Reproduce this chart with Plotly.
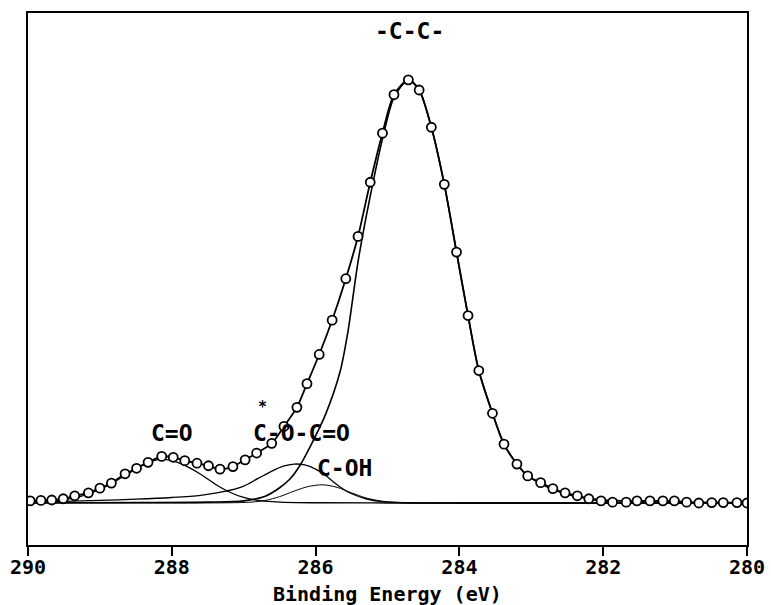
import plotly.graph_objects as go

# Measured spectrum (open circles)
E_data = [289.97, 289.82, 289.67, 289.51, 289.35, 289.16, 289.00, 288.84, 288.65, 288.49,
          288.33, 288.14, 287.98, 287.82, 287.65, 287.49, 287.33, 287.15, 286.98, 286.82,
          286.61, 286.44, 286.26, 286.12, 285.95, 285.77, 285.58, 285.41, 285.24, 285.07,
          284.91, 284.71, 284.56, 284.39, 284.21, 284.04, 283.88, 283.73, 283.54, 283.38,
          283.20, 283.05, 282.87, 282.70, 282.53, 282.36, 282.20, 282.03, 281.87, 281.68,
          281.53, 281.35, 281.17, 281.01, 280.84, 280.67, 280.49, 280.33, 280.14, 280.00]
I_data = [0.5, 0.6, 0.7, 1.0, 1.7, 2.4, 3.5, 4.7, 6.9, 8.2,
          9.6, 11.0, 10.8, 10.0, 9.4, 8.8, 8.0, 8.6, 10.2, 11.8,
          14.1, 18.1, 22.6, 28.2, 35.1, 43.2, 53.0, 63.0, 75.8, 87.4,
          96.5, 100.0, 97.6, 88.8, 75.3, 59.3, 44.3, 31.3, 21.2, 13.9,
          9.2, 6.4, 4.8, 3.4, 2.4, 1.7, 1.0, 0.5, 0.2, 0.2,
          0.5, 0.5, 0.5, 0.5, 0.2, 0.0, 0.1, 0.1, 0.1, 0.0]

# Fitted components
E_cc = [290.0, 288.5, 287.5, 287.0, 286.7, 286.5, 286.36, 286.22, 286.04, 285.86,
        285.66, 285.55, 285.41, 285.24, 285.07, 284.91, 284.71, 284.56, 284.39, 284.21,
        284.04, 283.88, 283.73, 283.54, 283.38, 283.20, 283.05, 282.87, 282.70, 282.53,
        282.36, 282.0, 281.5, 281.0, 280.5, 280.0]
I_cc = [0.0, 0.1, 0.2, 0.5, 1.6, 3.6, 5.6, 8.8, 14.5, 21.0,
        31.0, 40.5, 57.0, 72.5, 86.0, 95.8, 100.0, 97.6, 88.8, 75.3,
        59.3, 44.3, 31.3, 21.2, 13.9, 9.2, 6.4, 4.6, 3.2, 2.2,
        1.5, 0.7, 0.4, 0.2, 0.1, 0.0]

E_co = [290.0, 289.6, 289.3, 289.0, 288.8, 288.6, 288.4, 288.25, 288.15, 288.0,
        287.8, 287.6, 287.4, 287.2, 287.0, 286.8, 286.5, 286.0, 285.0, 280.0]
I_co = [0.2, 0.6, 1.4, 3.2, 5.0, 7.0, 9.0, 10.0, 10.3, 10.0,
        8.7, 6.8, 4.5, 2.6, 1.3, 0.6, 0.2, 0.05, 0.0, 0.0]

E_coco = [290.0, 289.5, 289.0, 288.5, 288.0, 287.6, 287.3, 287.0, 286.8, 286.6,
          286.45, 286.3, 286.15, 286.0, 285.87, 285.7, 285.55, 285.3, 285.09, 284.8, 284.0, 280.0]
I_coco = [0.2, 0.4, 0.6, 0.9, 1.3, 1.8, 2.6, 4.0, 5.8, 7.6,
          8.7, 9.2, 9.0, 8.0, 6.6, 4.3, 2.6, 1.0, 0.3, 0.1, 0.0, 0.0]

E_coh = [290.0, 287.2, 286.9, 286.7, 286.5, 286.3, 286.1, 285.9, 285.7, 285.5,
         285.3, 285.1, 284.9, 284.6, 280.0]
I_coh = [0.0, 0.05, 0.2, 0.6, 1.5, 2.8, 3.9, 4.3, 3.7, 2.4,
         1.2, 0.5, 0.15, 0.0, 0.0]

labels = ["-C-C-", "C=O", "C-O-C=O", "C-OH", "*"]
label_E = [284.7, 288.0, 286.19, 285.6, 286.74]
label_I = [111.5, 16.6, 16.6, 8.3, 22.6]

x_ticks = [290, 288, 286, 284, 282, 280]
x_title = "Binding Energy (eV)"

FONT = "DejaVu Sans Mono"

fig = go.Figure()
for E, I, w in [(E_co, I_co, 1.3), (E_coco, I_coco, 1.3), (E_coh, I_coh, 1.0), (E_cc, I_cc, 1.6)]:
    fig.add_trace(go.Scatter(x=E, y=I, mode="lines",
                             line=dict(color="black", width=w, shape="spline", smoothing=0.8),
                             showlegend=False, hoverinfo="skip"))

# envelope (fit sum) through the data
fig.add_trace(go.Scatter(x=E_data, y=I_data, mode="lines",
                         line=dict(color="black", width=1.8, shape="spline", smoothing=0.8),
                         showlegend=False))
fig.add_trace(go.Scatter(x=E_data, y=I_data, mode="markers",
                         marker=dict(symbol="circle", size=9, color="white",
                                     line=dict(color="black", width=1.8)),
                         showlegend=False))

for t, xe, yi in zip(labels, label_E, label_I):
    fig.add_annotation(x=xe, y=yi, text=t, showarrow=False,
                       font=dict(family=FONT, size=23 if t != "*" else 15, color="black", weight="bold"),
                       xanchor="center", yanchor="middle")

# x-axis title
fig.add_annotation(x=0.5, y=-0.092, xref="paper", yref="paper", text=x_title,
                   showarrow=False, xanchor="center", yanchor="middle",
                   font=dict(family=FONT, size=20, color="black", weight="bold"))

fig.update_layout(
    width=771, height=605,
    margin=dict(l=28, r=24, t=13, b=60),
    paper_bgcolor="white", plot_bgcolor="white",
    font=dict(family=FONT, color="black"),
    xaxis=dict(range=[290, 280], tickvals=x_ticks, ticktext=[str(v) for v in x_ticks],
               ticks="outside", ticklen=9, tickwidth=2, tickcolor="black",
               ticklabelstandoff=-6,
               showline=True, linewidth=2, linecolor="black", mirror=True,
               showgrid=False, zeroline=False, automargin=False,
               tickfont=dict(family=FONT, size=20, color="black", weight="bold")),
    yaxis=dict(range=[-9.93, 115.8], showticklabels=False, ticks="",
               showline=True, linewidth=2, linecolor="black", mirror=True,
               showgrid=False, zeroline=False, automargin=False),
)

fig.write_html("out.html")
